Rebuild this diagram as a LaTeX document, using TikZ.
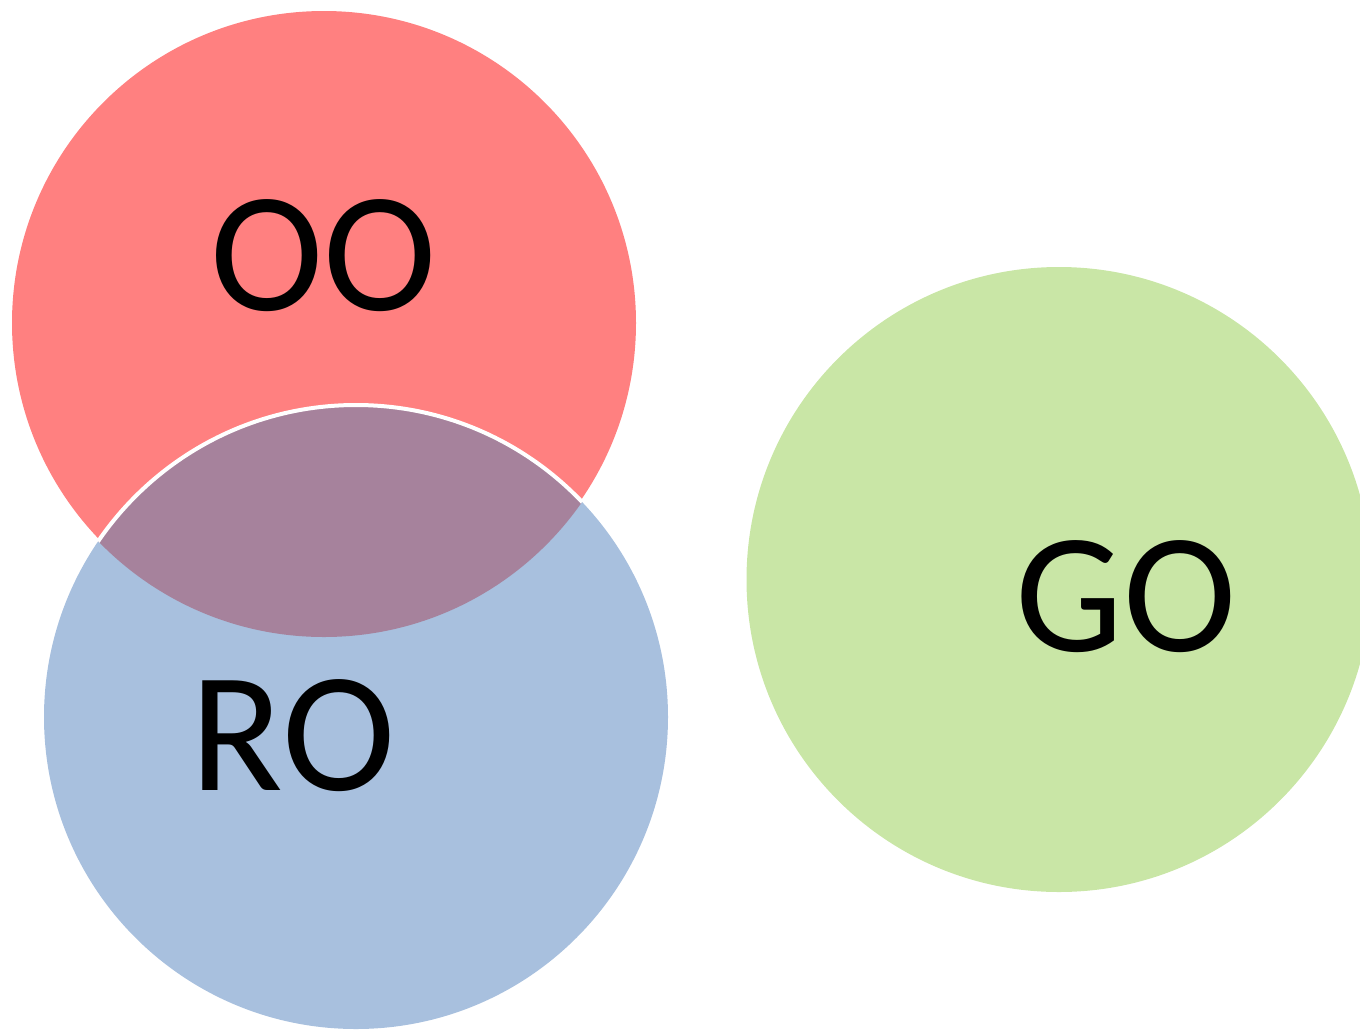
\documentclass[tikz,border=0pt]{standalone}
\usepackage{fontspec}
\setmainfont{Carlito}
\definecolor{redc}{HTML}{FF8080}
\definecolor{bluec}{HTML}{A8C0DE}
\definecolor{greenc}{HTML}{C9E6A6}
\definecolor{overc}{HTML}{A6829C}
\begin{document}
\begin{tikzpicture}[x=1pt,y=-1pt,
  lbl/.style={inner sep=0pt, text depth=0pt, font=\fontsize{171}{171}\selectfont}]
\useasboundingbox (0,0) rectangle (1360,1029);
\clip (0,0) rectangle (1360,1029);
\fill[redc] (324,323) circle[radius=312];
\fill[bluec] (356,717) circle[radius=312];
\begin{scope}
  \clip (324,323) circle[radius=314];
  \fill[overc] (356,717) circle[radius=312];
  \draw[white, line width=4pt] (356,717) circle[radius=312];
\end{scope}
\fill[greenc] (1059,579.5) circle[radius=312.5];
\node[lbl] (oo) at (324,255.5) {OO};
\node[lbl] (ro) at (293,735) {RO};
\node[lbl] (go) at (1126.5,596) {GO};
\end{tikzpicture}
\end{document}
